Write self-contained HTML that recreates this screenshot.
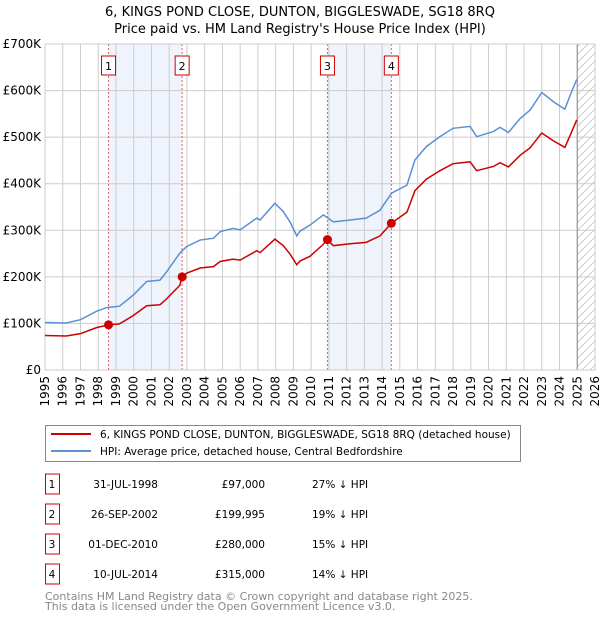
<!DOCTYPE html>
<html><head><meta charset="utf-8"><style>
body{margin:0;background:#fff;width:600px;height:620px;overflow:hidden;font-family:"DejaVu Sans","Liberation Sans",sans-serif}
svg text{font-family:"DejaVu Sans","Liberation Sans",sans-serif}
</style></head><body>
<svg id="chart" width="600" height="620" xmlns="http://www.w3.org/2000/svg">
<text x="300" y="16" text-anchor="middle" font-size="13">6, KINGS POND CLOSE, DUNTON, BIGGLESWADE, SG18 8RQ</text>
<text x="300" y="33" text-anchor="middle" font-size="13">Price paid vs. HM Land Registry's House Price Index (HPI)</text>
<g id="plot"></g>
<g>
<rect x="45.5" y="425.5" width="475" height="36" fill="#fff" stroke="#888"/>
<line x1="51" y1="434" x2="91" y2="434" stroke="#cc0000" stroke-width="2"/>
<text x="100" y="438" font-size="10.5">6, KINGS POND CLOSE, DUNTON, BIGGLESWADE, SG18 8RQ (detached house)</text>
<line x1="51" y1="451" x2="91" y2="451" stroke="#5b8fd6" stroke-width="2"/>
<text x="100" y="455" font-size="10.5">HPI: Average price, detached house, Central Bedfordshire</text>
</g>
<g id="table"></g>
<text x="45" y="600" font-size="11" fill="#888">Contains HM Land Registry data © Crown copyright and database right 2025.</text>
<text x="45" y="610" font-size="11" fill="#888">This data is licensed under the Open Government Licence v3.0.</text>
</svg>
<script>
const hpiYears=[1995.0,1996.2,1997.0,1997.9,1998.48,1999.2,1999.98,2000.73,2001.48,2001.86,2002.6,2002.98,2003.74,2004.5,2004.87,2005.6,2006.0,2006.93,2007.12,2007.96,2008.43,2008.81,2009.19,2009.37,2009.93,2010.69,2011.25,2012.2,2013.1,2013.88,2014.54,2015.4,2015.85,2016.5,2017.26,2018.0,2018.96,2019.33,2020.27,2020.65,2021.12,2021.78,2022.34,2023.0,2023.66,2024.3,2024.6,2024.97];
const hpiValues=[102,101,108,126,134,137,161,190,193,211,251,265,279,283,297,304,301,326,322,358,340,318,288,298,311,333,318,322,326,343,380,397,451,480,501,519,523,501,512,521,510,540,558,596,576,560,590,624];
const priceYears=[1995.0,1996.2,1997.0,1997.9,1998.58,1999.2,1999.98,2000.73,2001.48,2001.86,2002.6,2002.73,2002.98,2003.74,2004.5,2004.87,2005.6,2006.0,2006.93,2007.12,2007.96,2008.43,2008.81,2009.19,2009.37,2009.93,2010.69,2010.92,2011.25,2012.2,2013.1,2013.88,2014.52,2015.4,2015.85,2016.5,2017.26,2018.0,2018.96,2019.33,2020.27,2020.65,2021.12,2021.78,2022.34,2023.0,2023.66,2024.3,2024.6,2024.97];
const priceValues=[74,73,78,91,97,99,117,138,140,153,182,200,208,219,222,233,238,236,256,252,281,267,249,226,234,244,270,280,267,271,274,288,315,339,385,410,428,443,447,428,437,445,436,461,477,509,492,478,504,537];
const saleYears=[1998.58,2002.73,2010.92,2014.52];
const salePrices=[97,199.995,280,315];
const saleLabels=["1","2","3","4"];
const saleDates=["31-JUL-1998","26-SEP-2002","01-DEC-2010","10-JUL-2014"];
const salePriceText=["£97,000","£199,995","£280,000","£315,000"];
const saleHpiText=["27% ↓ HPI","19% ↓ HPI","15% ↓ HPI","14% ↓ HPI"];
const yTicks=[0,100,200,300,400,500,600,700];
const yTickLabels=["£0","£100K","£200K","£300K","£400K","£500K","£600K","£700K"];
const xTicks=[1995,1996,1997,1998,1999,2000,2001,2002,2003,2004,2005,2006,2007,2008,2009,2010,2011,2012,2013,2014,2015,2016,2017,2018,2019,2020,2021,2022,2023,2024,2025,2026];
const dataEnd=2025.0;

const L=45,R=595,T=44,B=370;
const x=y=>L+(y-1995)/31*(R-L);
const yS=v=>B-v/700*(B-T);
const NS="http://www.w3.org/2000/svg";
function mk(tag,attrs,parent){const e=document.createElementNS(NS,tag);for(const k in attrs)e.setAttribute(k,attrs[k]);parent.appendChild(e);return e;}
const plot=document.getElementById('plot');
for(let i=0;i<4;i+=2){
 const r=mk('rect',{x:x(saleYears[i]),y:T,width:x(saleYears[i+1])-x(saleYears[i]),height:B-T,fill:'#eef3fc'},plot);
 
 
}
xTicks.forEach(t=>{
 const l=mk('line',{x1:x(t),x2:x(t),y1:T,y2:B,stroke:'#cccccc','stroke-width':1},plot);
 
 
 const tx=mk('text',{transform:`translate(${x(t)+4},${B+6}) rotate(-90)`,'text-anchor':'end','font-size':12},plot);
 
 
 tx.textContent=t;
});
yTicks.forEach((t,i)=>{
 const l=mk('line',{x1:L,x2:R,y1:yS(t),y2:yS(t),stroke:'#cccccc','stroke-width':1},plot);
 
 
 const tx=mk('text',{x:L-4,y:yS(t)+4,'text-anchor':'end','font-size':12},plot);
 
 
 tx.textContent=yTickLabels[i];
});
const defs=mk('defs',{},plot);
const pat=mk('pattern',{id:'hatch',width:8,height:8,patternUnits:'userSpaceOnUse'},defs);
mk('path',{d:'M0,8 L8,0',stroke:'#cccccc','stroke-width':1},pat);
const h=mk('rect',{x:x(dataEnd),y:T,width:R-x(dataEnd),height:B-T,fill:'url(#hatch)'},plot);


const el=mk('line',{x1:x(dataEnd),x2:x(dataEnd),y1:T,y2:B,stroke:'#999','stroke-width':1.2},plot);


saleYears.forEach((s,i)=>{
 const l=mk('line',{x1:x(s),x2:x(s),y1:T,y2:B,stroke:'#e06060','stroke-width':1,'stroke-dasharray':'2,2'},plot);
 
 
 const r=mk('rect',{x:x(s)-7,y:56,width:14,height:19,fill:'#fff',stroke:'#cc0000'},plot);
 
 
 const t=mk('text',{x:x(s),y:70,'text-anchor':'middle','font-size':11},plot);
 
 
 t.textContent=saleLabels[i];
});
mk('rect',{x:L,y:T,width:R-L,height:B-T,fill:'none',stroke:'#cccccc'},plot);
const hp=mk('polyline',{points:hpiYears.map((y,i)=>x(y)+','+yS(hpiValues[i])).join(' '),fill:'none',stroke:'#5b8fd6','stroke-width':1.5},plot);


const pp=mk('polyline',{points:priceYears.map((y,i)=>x(y)+','+yS(priceValues[i])).join(' '),fill:'none',stroke:'#cc0000','stroke-width':1.5},plot);


saleYears.forEach((s,i)=>{
 const c=mk('circle',{cx:x(s),cy:yS(salePrices[i]),r:4.5,fill:'#cc0000'},plot);
 
 
});
const tb=document.getElementById('table');
saleLabels.forEach((lab,i)=>{
 const cy=484+i*30;
 const r=mk('rect',{x:45.5,y:cy-10,width:14,height:20,fill:'#fff',stroke:'#cc0000'},tb);
 
 
 const cells=[[52,'middle',lab,'table-number'],[158,'end',saleDates[i],'table-date'],[265,'end',salePriceText[i],'table-price'],[312,'start',saleHpiText[i],'table-hpi-diff']];
 cells.forEach(c=>{
  const t=mk('text',{x:c[0],y:cy+4,'text-anchor':c[1],'font-size':10.5},tb);
  
  
  t.textContent=c[2];
 });
});
</script>
</body></html>
